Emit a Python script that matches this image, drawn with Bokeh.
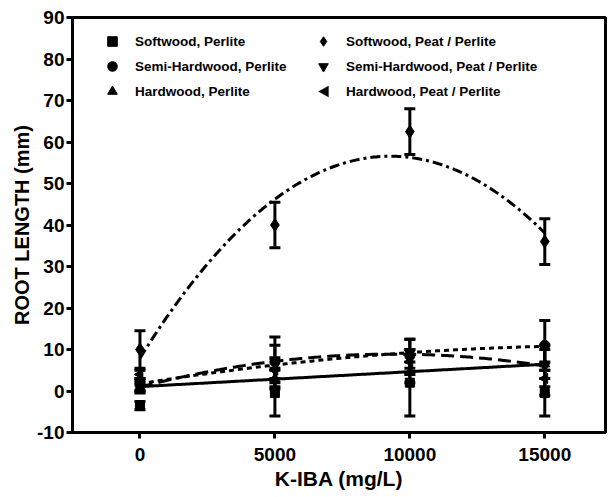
import numpy as np
from bokeh.plotting import figure
from bokeh.models import (ColumnDataSource, Whisker, TeeHead, Legend, LegendItem,
                          FixedTicker, PolyAnnotation)
from bokeh.embed import file_html
from bokeh.resources import INLINE

# ---- data ----
kiba = [0, 5000, 10000, 15000]
x_ticks = [0, 5000, 10000, 15000]
y_ticks = [-10, 0, 10, 20, 30, 40, 50, 60, 70, 80, 90]

softwood_perlite = [-3.5, -0.5, 2.0, -0.5]
softwood_perlite_err = [1.0, 5.5, 8.0, 5.5]

semi_perlite = [1.5, 7.0, 8.5, 11.0]
semi_perlite_err = [1.5, 6.0, 4.0, 6.0]

hard_perlite = [1.0, 3.0, 4.5, 6.5]
hard_perlite_err = [1.0, 2.5, 2.5, 3.5]

softwood_peat = [10.0, 40.0, 62.5, 36.0]
softwood_peat_err = [4.5, 5.5, 5.5, 5.5]

semi_peat = [1.0, 7.0, 9.0, 6.0]
semi_peat_err = [1.5, 4.0, 3.5, 5.0]

hard_peat = [4.0, 5.0, 7.0, 3.0]
hard_peat_err = [1.0, 3.0, 3.0, 4.0]

labels = ["Softwood, Perlite", "Semi-Hardwood, Perlite", "Hardwood, Perlite",
          "Softwood, Peat / Perlite", "Semi-Hardwood, Peat / Perlite", "Hardwood, Peat / Perlite"]

FONT = "Liberation Sans"

# layout (pixels)
W, H = 614, 497
BL, BR, BT, BB = 72, 9, 17, 65

p = figure(width=W, height=H, x_range=(-2500, 17250), y_range=(-10, 90),
           output_backend="svg", toolbar_location=None,
           min_border_left=BL, min_border_right=BR, min_border_top=BT, min_border_bottom=BB)
p.background_fill_color = "white"
p.border_fill_color = "white"
p.xgrid.visible = False
p.ygrid.visible = False
p.outline_line_color = "black"
p.outline_line_width = 3

for ax in (p.xaxis[0], p.yaxis[0]):
    ax.axis_line_width = 3
    ax.major_tick_line_width = 3
    ax.major_tick_out = 6
    ax.major_tick_in = 0
    ax.minor_tick_line_color = None
    ax.major_label_text_font = FONT
    ax.major_label_text_font_style = "bold"
    ax.major_label_text_font_size = "19px"
    ax.major_label_text_color = "black"
    ax.axis_label_text_font = FONT
    ax.axis_label_text_font_style = "bold"
    ax.axis_label_text_color = "black"

p.xaxis.ticker = FixedTicker(ticks=x_ticks)
p.yaxis.ticker = FixedTicker(ticks=y_ticks)
p.yaxis.major_label_overrides = {t: str(t) for t in y_ticks}
p.xaxis.major_label_overrides = {t: str(t) for t in x_ticks}
p.xaxis.axis_label = "K-IBA (mg/L)"
p.yaxis.axis_label = "ROOT LENGTH (mm)"
p.xaxis.axis_label_text_font_size = "21px"
p.yaxis.axis_label_text_font_size = "20px"
p.xaxis.major_label_standoff = 9
p.xaxis.axis_label_standoff = 3
p.yaxis.major_label_standoff = 2
p.yaxis.axis_label_standoff = 1

# ---- fitted regression curves ----
xf = np.linspace(0, 15000, 200)
def fit(vals, deg):
    c = np.polyfit(np.array(kiba, float), np.array(vals, float), deg)
    return np.polyval(c, xf)

p.line(xf, fit(softwood_peat, 2), line_color="black", line_width=3, line_dash="10 4 3 4")
p.line(xf, fit(semi_peat, 2), line_color="black", line_width=3, line_dash="13 6")
p.line(xf, fit(semi_perlite, 2), line_color="black", line_width=3, line_dash="5 4")
p.line(xf, fit(hard_perlite, 1), line_color="black", line_width=3)

series = [
    (softwood_perlite, softwood_perlite_err, "square", 9, 0.0),
    (semi_perlite, semi_perlite_err, "circle", 10, 0.0),
    (hard_perlite, hard_perlite_err, "triangle", 10, 0.0),
    (softwood_peat, softwood_peat_err, "diamond", 13, 0.0),
    (semi_peat, semi_peat_err, "inverted_triangle", 10, 0.0),
    (hard_peat, hard_peat_err, "triangle", 10, np.pi / 2),
]

renderers = []
for vals, err, marker, size, ang in series:
    src = ColumnDataSource(dict(
        x=kiba, y=vals,
        upper=[v + e for v, e in zip(vals, err)],
        lower=[v - e for v, e in zip(vals, err)],
    ))
    w = Whisker(base="x", upper="upper", lower="lower", source=src, dimension="height",
                line_color="black", line_width=3,
                upper_head=TeeHead(size=11, line_width=3, line_color="black"),
                lower_head=TeeHead(size=11, line_width=3, line_color="black"))
    p.add_layout(w)
    r = p.scatter("x", "y", source=src, marker=marker, size=size, angle=ang,
                  fill_color="black", line_color="black")
    renderers.append(r)

# legend glyph for the left-pointing triangle is drawn separately (legend ignores angle)
blank = p.scatter(x=[], y=[], marker="triangle", size=10, fill_alpha=0, line_alpha=0)
legend_renderers = renderers[:5] + [blank]

GLYPH = 24
SPACING = 1
LEG_Y = 329           # bottom of legends, from frame bottom
LEG_X = [28, 239]     # left of legends, from frame left

def make_legend(items, loc):
    leg = Legend(items=items, location=loc,
                 border_line_color=None, background_fill_alpha=0,
                 padding=0, margin=0, spacing=SPACING,
                 glyph_width=GLYPH, glyph_height=GLYPH, label_height=GLYPH,
                 label_standoff=11,
                 label_text_font=FONT, label_text_font_style="bold",
                 label_text_font_size="13.5px", label_text_color="black")
    p.add_layout(leg)

make_legend([LegendItem(label=labels[i], renderers=[legend_renderers[i]]) for i in range(3)], (LEG_X[0], LEG_Y))
make_legend([LegendItem(label=labels[i], renderers=[legend_renderers[i]]) for i in range(3, 6)], (LEG_X[1], LEG_Y))

# left-pointing triangle in the last legend row (canvas pixels)
cx = BL + LEG_X[1] + GLYPH / 2
cy = (H - BB) - LEG_Y - GLYPH / 2
half = 5.0
p.add_layout(PolyAnnotation(xs=[cx - half, cx + half, cx + half],
                            ys=[cy, cy - half - 0.5, cy + half + 0.5],
                            xs_units="canvas", ys_units="canvas",
                            fill_color="black", fill_alpha=1.0,
                            line_color="black", line_width=1))

open("out.html", "w").write(file_html(p, INLINE))
